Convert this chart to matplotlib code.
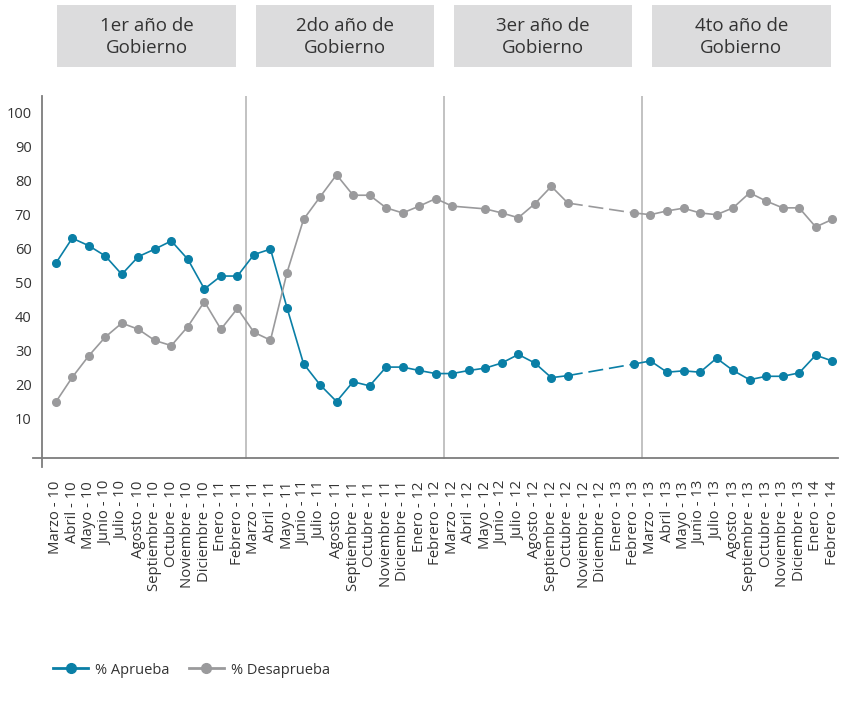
import numpy as np
import matplotlib.pyplot as plt
from matplotlib.lines import Line2D
from matplotlib.patches import Rectangle
from matplotlib.transforms import blended_transform_factory

plt.rcParams['font.family'] = ['Open Sans', 'DejaVu Sans']

# Data
meses = ['Marzo - 10', 'Abril - 10', 'Mayo - 10', 'Junio - 10', 'Julio - 10', 'Agosto - 10',
         'Septiembre - 10', 'Octubre - 10', 'Noviembre - 10', 'Diciembre - 10', 'Enero - 11', 'Febrero - 11',
         'Marzo - 11', 'Abril - 11', 'Mayo - 11', 'Junio - 11', 'Julio - 11', 'Agosto - 11',
         'Septiembre - 11', 'Octubre - 11', 'Noviembre - 11', 'Diciembre - 11', 'Enero - 12', 'Febrero - 12',
         'Marzo - 12', 'Abril - 12', 'Mayo - 12', 'Junio - 12', 'Julio - 12', 'Agosto - 12',
         'Septiembre - 12', 'Octubre - 12', 'Noviembre - 12', 'Diciembre - 12', 'Enero - 13', 'Febrero - 13',
         'Marzo - 13', 'Abril - 13', 'Mayo - 13', 'Junio - 13', 'Julio - 13', 'Agosto - 13',
         'Septiembre - 13', 'Octubre - 13', 'Noviembre - 13', 'Diciembre - 13', 'Enero - 14', 'Febrero - 14']

nan = np.nan
aprueba = [55.6, 63.0, 60.8, 57.8, 52.4, 57.6, 59.8, 62.2, 56.8, 48.1, 51.9, 51.9,
           58.2, 59.8, 42.6, 26.2, 20.0, 15.1, 20.9, 19.7, 25.2, 25.2, 24.2, 23.3,
           23.3, 24.2, 24.9, 26.4, 28.9, 26.4, 22.1, 22.7, nan, nan, nan, 26.1,
           27.0, 23.7, 24.1, 23.7, 27.8, 24.2, 21.5, 22.5, 22.5, 23.5, 28.7, 27.0]
desaprueba = [14.9, 22.2, 28.5, 34.0, 38.1, 36.3, 33.0, 31.5, 37.1, 44.4, 36.3, 42.4,
              35.4, 33.1, 52.9, 68.5, 75.1, 81.6, 75.6, 75.6, 71.9, 70.4, 72.4, 74.6,
              72.4, nan, 71.6, 70.4, 69.0, 73.1, 78.2, 73.3, nan, nan, nan, 70.4,
              69.9, 71.0, 71.8, 70.4, 69.9, 71.9, 76.3, 73.9, 71.9, 71.9, 66.3, 68.5]

anios = ['1er año de\nGobierno', '2do año de\nGobierno', '3er año de\nGobierno', '4to año de\nGobierno']
yticks = [10, 20, 30, 40, 50, 60, 70, 80, 90, 100]

azul = '#0a7fa6'
gris = '#9a9a9c'

fig = plt.figure(figsize=(8.47, 7.15), dpi=100)
ax = fig.add_axes([33 / 847, 1 - 467 / 715, (838 - 33) / 847, (467 - 96) / 715])
x = np.arange(len(meses))
xmin, xmax = -1.374, 47.35
ymin, ymax = -4.1, 104.7
ax.set_xlim(xmin, xmax)
ax.set_ylim(ymin, ymax)
base = -1.47

# no survey between Octubre-12 and Febrero-13 -> dashed link
c1 = meses.index('Octubre - 12')
c2 = meses.index('Febrero - 13')

for serie, color in [(aprueba, azul), (desaprueba, gris)]:
    y = np.array(serie, dtype=float)
    ok = ~np.isnan(y)
    for a, b, ls in [(0, c1, '-'), (c1, c2, (0, (9, 3.5))), (c2, len(x) - 1, '-')]:
        m = ok & (x >= a) & (x <= b)
        ax.plot(x[m], y[m], color=color, lw=1.2, ls=ls, zorder=3)
    ax.plot(x[ok], y[ok], 'o', color=color, ms=5.5, zorder=4)

# axes lines and year separators
ax.plot([xmin, xmax], [base, base], color='#7d7d7d', lw=1.3, clip_on=False)
ax.plot([-0.83, -0.83], [ymin, ymax], color='#7d7d7d', lw=1.3, clip_on=False)
separadores = [11.5, 23.5, 35.5]
for s in separadores:
    ax.plot([s, s], [base, ymax], color='#b8b8b8', lw=1.2, zorder=1)

for sp in ax.spines.values():
    sp.set_visible(False)

ax.set_yticks(yticks)
ax.set_yticklabels([str(v) for v in yticks], fontsize=10.5, color='#333333')
ax.tick_params(axis='y', length=0, pad=1)
ax.set_xticks(x)
ax.set_xticklabels(meses, rotation=90, fontsize=10.7, color='#333333')
ax.tick_params(axis='x', length=0, pad=10)

# year header boxes
trans = blended_transform_factory(ax.transData, fig.transFigure)
bordes = [-0.5] + separadores + [47.5]
for i, txt in enumerate(anios):
    centro = (bordes[i] + bordes[i + 1]) / 2
    ax.add_patch(Rectangle((centro - 5.4, 1 - 67 / 715), 10.8, 62 / 715, transform=trans,
                           facecolor='#dcdcdd', edgecolor='none', clip_on=False))
    ax.text(centro, 1 - 37 / 715, txt, transform=trans, ha='center', va='center',
            fontsize=13.5, color='#333333', linespacing=1.3)

handles = [Line2D([], [], color=azul, lw=2, marker='o', ms=7),
           Line2D([], [], color=gris, lw=2, marker='o', ms=7)]
fig.legend(handles, ['% Aprueba', '% Desaprueba'], loc='center left',
           bbox_to_anchor=(40 / 847, 1 - 670 / 715), ncol=2, frameon=False,
           fontsize=10.5, handlelength=2.4, handletextpad=0.5, columnspacing=1.3,
           labelcolor='#333333')

fig.savefig('out.png', dpi=100)
